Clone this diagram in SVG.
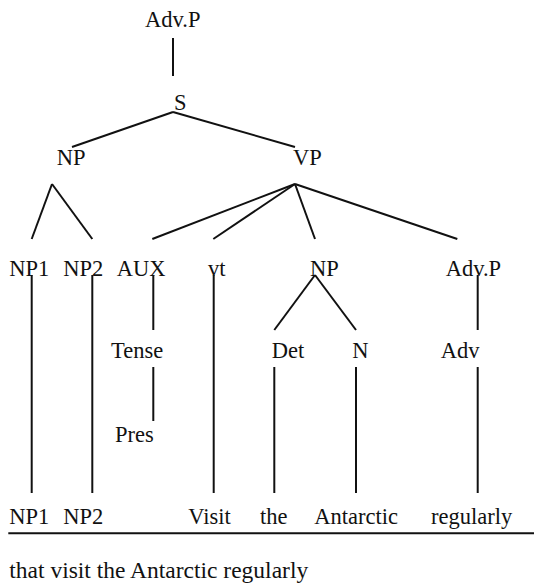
<svg xmlns="http://www.w3.org/2000/svg" width="534" height="586" viewBox="0 0 534 586">
  <style>
    .edge { stroke: #111; stroke-width: 2; fill: none; stroke-linecap: butt; }
  </style>
  <rect width="534" height="586" fill="#fff"/>

  <!-- tree branches -->
  <g id="connectors" class="edge">
    <line x1="173" y1="38" x2="173" y2="76"/>
    <line x1="173" y1="112" x2="72" y2="147"/>
    <line x1="173" y1="112" x2="295" y2="147"/>
    <line x1="52" y1="184" x2="31.7" y2="239"/>
    <line x1="52" y1="184" x2="92.3" y2="239"/>
    <line x1="295" y1="184" x2="152.3" y2="239"/>
    <line x1="295" y1="184" x2="213.3" y2="239"/>
    <line x1="295" y1="184" x2="315" y2="239"/>
    <line x1="295" y1="184" x2="457.3" y2="239"/>
    <line x1="31.7" y1="275" x2="31.7" y2="493"/>
    <line x1="92.3" y1="275" x2="92.3" y2="493"/>
    <line x1="153.3" y1="275" x2="153.3" y2="330"/>
    <line x1="213.7" y1="275" x2="213.7" y2="493"/>
    <line x1="315" y1="275" x2="274.3" y2="330"/>
    <line x1="315" y1="275" x2="356" y2="330"/>
    <line x1="477.7" y1="275" x2="477.7" y2="330"/>
    <line x1="153.3" y1="367" x2="153.3" y2="421"/>
    <line x1="274.3" y1="367" x2="274.3" y2="493"/>
    <line x1="356" y1="367" x2="356" y2="493"/>
    <line x1="477.7" y1="367" x2="477.7" y2="493"/>
    <line x1="8.3" y1="533.3" x2="534" y2="533.3"/>
  </g>

  <g font-family="'Liberation Serif', 'DejaVu Serif', 'Times New Roman', serif" font-size="22.5" fill="#111">
    <g id="advp-top"><text x="145" y="27">Adv.P</text></g>
    <g id="s"><text x="174" y="110">S</text></g>
    <g id="np"><text x="56.7" y="165">NP</text></g>
    <g id="vp"><text x="293" y="165">VP</text></g>

    <g id="np1"><text x="9.3" y="276">NP1</text></g>
    <g id="np2"><text x="63.3" y="276">NP2</text></g>
    <g id="aux"><text x="116.7" y="276">AUX</text></g>
    <g id="vt"><text x="208" y="276">vt</text></g>
    <g id="np-obj"><text x="310" y="276">NP</text></g>
    <g id="advp"><text x="445.7" y="276">Adv.P</text></g>

    <g id="tense"><text x="111" y="358">Tense</text></g>
    <g id="det"><text x="271.7" y="358">Det</text></g>
    <g id="n"><text x="352.3" y="358">N</text></g>
    <g id="adv"><text x="440.7" y="358">Adv</text></g>

    <g id="pres"><text x="115" y="441.7">Pres</text></g>

    <g id="w-np1"><text x="9.3" y="524">NP1</text></g>
    <g id="w-np2"><text x="63.3" y="524">NP2</text></g>
    <g id="w-visit"><text x="188.3" y="524">Visit</text></g>
    <g id="w-the"><text x="260" y="524">the</text></g>
    <g id="w-antarctic"><text x="314.3" y="524">Antarctic</text></g>
    <g id="w-regularly"><text x="431" y="524">regularly</text></g>

    <g id="caption"><text x="9.3" y="578" font-size="23.5">that visit the Antarctic regularly</text></g>
  </g>
</svg>
